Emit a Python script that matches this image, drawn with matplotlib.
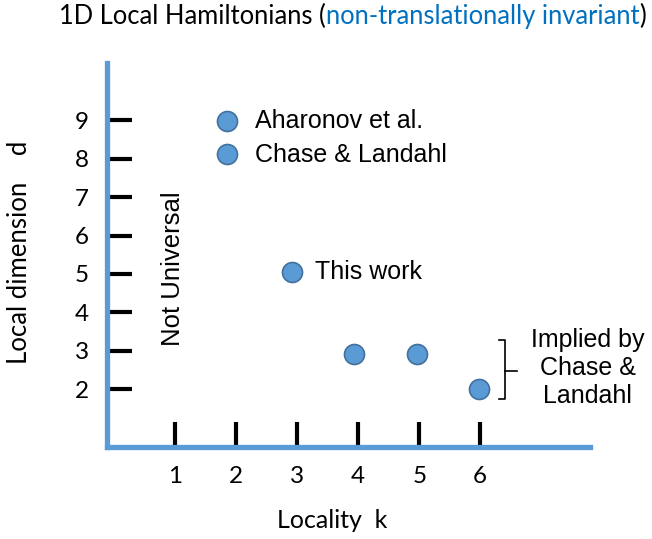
import matplotlib
matplotlib.use("Agg")
import matplotlib.pyplot as plt

# data
locality = [1.85, 1.85, 2.91, 3.93, 4.96, 5.98]
local_dim = [8.97, 8.12, 5.05, 2.92, 2.92, 2.0]
x_ticks = [1, 2, 3, 4, 5, 6]
y_ticks = [2, 3, 4, 5, 6, 7, 8, 9]

blue = "#5B9BD5"
edge = "#41719C"
title_blue = "#0070C0"
calibri = ["Lato", "DejaVu Sans"]
arial = ["Liberation Sans", "DejaVu Sans"]

fig = plt.figure(figsize=(6.52, 5.39), dpi=100)
ax = fig.add_axes([107 / 652, (539 - 446.5) / 539, (590 - 107) / 652, (446.5 - 63) / 539])

ax.plot(locality, local_dim, "o", ms=14.4, mfc=blue, mec=edge, mew=1.2, zorder=5)

ax.set_xlim(-0.12, 7.80)
ax.set_ylim(0.51, 10.49)
for s in ["top", "right"]:
    ax.spines[s].set_visible(False)
for s in ["left", "bottom"]:
    ax.spines[s].set_color(blue)
    ax.spines[s].set_linewidth(3.8)

ax.set_xticks(x_ticks)
ax.set_yticks(y_ticks)
ax.tick_params(axis="both", direction="in", length=18, width=3, color="black",
               labelsize=17.5, pad=13)
ax.tick_params(axis="x", pad=14)
for lab in ax.get_xticklabels() + ax.get_yticklabels():
    lab.set_family(calibri)

# labels
fig.text(20 / 652, 1 - 252 / 539, "Local dimension    d", rotation=90, fontsize=18.5,
         family=calibri, ha="center", va="center")
fig.text(332 / 652, 1 - 521 / 539, "Locality  k", fontsize=18, family=calibri,
         ha="center", va="center")

# title in two colours
t1 = fig.text(59 / 652, 1 - 24 / 539, "1D Local Hamiltonians (", fontsize=18.4,
              family=calibri, va="baseline")
t2 = ax.annotate("non-translationally invariant", xy=(1, 0), xycoords=t1,
                 va="bottom", fontsize=18.4, family=calibri, color=title_blue,
                 annotation_clip=False)
ax.annotate(")", xy=(1, 0), xycoords=t2, va="bottom", fontsize=18.4,
            family=calibri, annotation_clip=False)

# annotations
ax.text(2.31, 8.97, "Aharonov et al.", fontsize=18, family=arial, va="center")
ax.text(2.31, 8.1, "Chase & Landahl", fontsize=18, family=arial, va="center")
ax.text(3.29, 5.05, "This work", fontsize=18, family=arial, va="center")
ax.text(0.96, 5.13, "Not Universal", fontsize=18.5, family=arial, rotation=90,
        ha="center", va="center")
ax.text(7.76, 2.55, "Implied by\nChase &\nLandahl", fontsize=18, family=arial,
        ha="center", va="center", linespacing=1.2, clip_on=False)

# bracket
ax.plot([6.31, 6.40, 6.40, 6.31], [3.28, 3.28, 1.745, 1.745], color="black", lw=1.2)
ax.plot([6.40, 6.61], [2.47, 2.47], color="black", lw=1.2)

fig.savefig("out.png", dpi=100)
